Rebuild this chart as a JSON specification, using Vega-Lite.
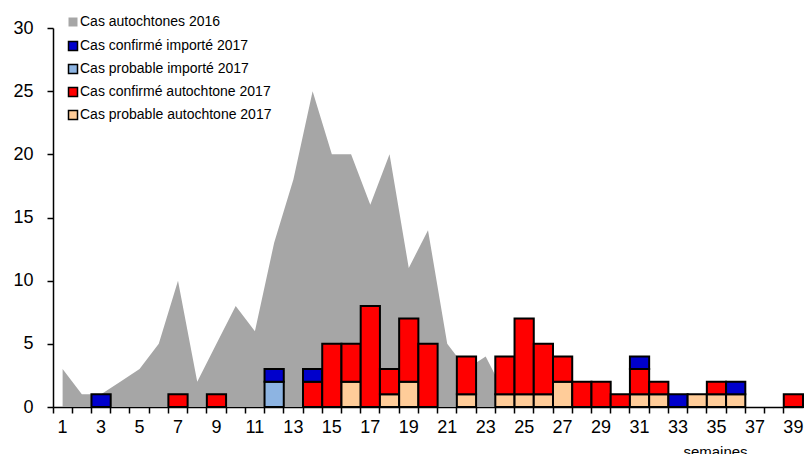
{
  "$schema": "https://vega.github.io/schema/vega-lite/v6.json",
  "width": 750,
  "height": 379,
  "autosize": "none",
  "padding": {"left": 53, "top": 28, "right": 3, "bottom": 47},
  "background": "white",
  "config": {
    "view": {"stroke": null},
    "font": "Liberation Sans",
    "axis": {"labelColor": "black", "titleColor": "black", "labelFont": "Liberation Sans", "titleFont": "Liberation Sans"},
    "legend": {"labelFont": "Liberation Sans", "labelColor": "black"}
  },
  "data": {
    "values": [
      {"semaine": 1, "serie": "Cas autochtones 2016", "cas": 3},
      {"semaine": 2, "serie": "Cas autochtones 2016", "cas": 1},
      {"semaine": 3, "serie": "Cas autochtones 2016", "cas": 1},
      {"semaine": 4, "serie": "Cas autochtones 2016", "cas": 2},
      {"semaine": 5, "serie": "Cas autochtones 2016", "cas": 3},
      {"semaine": 6, "serie": "Cas autochtones 2016", "cas": 5},
      {"semaine": 7, "serie": "Cas autochtones 2016", "cas": 10},
      {"semaine": 8, "serie": "Cas autochtones 2016", "cas": 2},
      {"semaine": 9, "serie": "Cas autochtones 2016", "cas": 5},
      {"semaine": 10, "serie": "Cas autochtones 2016", "cas": 8},
      {"semaine": 11, "serie": "Cas autochtones 2016", "cas": 6},
      {"semaine": 12, "serie": "Cas autochtones 2016", "cas": 13},
      {"semaine": 13, "serie": "Cas autochtones 2016", "cas": 18},
      {"semaine": 14, "serie": "Cas autochtones 2016", "cas": 25},
      {"semaine": 15, "serie": "Cas autochtones 2016", "cas": 20},
      {"semaine": 16, "serie": "Cas autochtones 2016", "cas": 20},
      {"semaine": 17, "serie": "Cas autochtones 2016", "cas": 16},
      {"semaine": 18, "serie": "Cas autochtones 2016", "cas": 20},
      {"semaine": 19, "serie": "Cas autochtones 2016", "cas": 11},
      {"semaine": 20, "serie": "Cas autochtones 2016", "cas": 14},
      {"semaine": 21, "serie": "Cas autochtones 2016", "cas": 5},
      {"semaine": 22, "serie": "Cas autochtones 2016", "cas": 3},
      {"semaine": 23, "serie": "Cas autochtones 2016", "cas": 4},
      {"semaine": 24, "serie": "Cas autochtones 2016", "cas": 1},
      {"semaine": 25, "serie": "Cas autochtones 2016", "cas": 0},
      {"semaine": 26, "serie": "Cas autochtones 2016", "cas": 0},
      {"semaine": 27, "serie": "Cas autochtones 2016", "cas": 0},
      {"semaine": 28, "serie": "Cas autochtones 2016", "cas": 0},
      {"semaine": 29, "serie": "Cas autochtones 2016", "cas": 0},
      {"semaine": 30, "serie": "Cas autochtones 2016", "cas": 0},
      {"semaine": 31, "serie": "Cas autochtones 2016", "cas": 0},
      {"semaine": 32, "serie": "Cas autochtones 2016", "cas": 0},
      {"semaine": 33, "serie": "Cas autochtones 2016", "cas": 0},
      {"semaine": 34, "serie": "Cas autochtones 2016", "cas": 0},
      {"semaine": 35, "serie": "Cas autochtones 2016", "cas": 0},
      {"semaine": 36, "serie": "Cas autochtones 2016", "cas": 0},
      {"semaine": 37, "serie": "Cas autochtones 2016", "cas": 0},
      {"semaine": 38, "serie": "Cas autochtones 2016", "cas": 0},
      {"semaine": 39, "serie": "Cas autochtones 2016", "cas": 0},

      {"semaine": 3, "serie": "Cas confirmé importé 2017", "origine": "importé", "statut": "confirmé", "cas": 1},
      {"semaine": 7, "serie": "Cas confirmé autochtone 2017", "origine": "autochtone", "statut": "confirmé", "cas": 1},
      {"semaine": 9, "serie": "Cas confirmé autochtone 2017", "origine": "autochtone", "statut": "confirmé", "cas": 1},
      {"semaine": 12, "serie": "Cas probable importé 2017", "origine": "importé", "statut": "probable", "cas": 2},
      {"semaine": 12, "serie": "Cas confirmé importé 2017", "origine": "importé", "statut": "confirmé", "cas": 1},
      {"semaine": 14, "serie": "Cas confirmé autochtone 2017", "origine": "autochtone", "statut": "confirmé", "cas": 2},
      {"semaine": 14, "serie": "Cas confirmé importé 2017", "origine": "importé", "statut": "confirmé", "cas": 1},
      {"semaine": 15, "serie": "Cas confirmé autochtone 2017", "origine": "autochtone", "statut": "confirmé", "cas": 5},
      {"semaine": 16, "serie": "Cas probable autochtone 2017", "origine": "autochtone", "statut": "probable", "cas": 2},
      {"semaine": 16, "serie": "Cas confirmé autochtone 2017", "origine": "autochtone", "statut": "confirmé", "cas": 3},
      {"semaine": 17, "serie": "Cas confirmé autochtone 2017", "origine": "autochtone", "statut": "confirmé", "cas": 8},
      {"semaine": 18, "serie": "Cas probable autochtone 2017", "origine": "autochtone", "statut": "probable", "cas": 1},
      {"semaine": 18, "serie": "Cas confirmé autochtone 2017", "origine": "autochtone", "statut": "confirmé", "cas": 2},
      {"semaine": 19, "serie": "Cas probable autochtone 2017", "origine": "autochtone", "statut": "probable", "cas": 2},
      {"semaine": 19, "serie": "Cas confirmé autochtone 2017", "origine": "autochtone", "statut": "confirmé", "cas": 5},
      {"semaine": 20, "serie": "Cas confirmé autochtone 2017", "origine": "autochtone", "statut": "confirmé", "cas": 5},
      {"semaine": 22, "serie": "Cas probable autochtone 2017", "origine": "autochtone", "statut": "probable", "cas": 1},
      {"semaine": 22, "serie": "Cas confirmé autochtone 2017", "origine": "autochtone", "statut": "confirmé", "cas": 3},
      {"semaine": 24, "serie": "Cas probable autochtone 2017", "origine": "autochtone", "statut": "probable", "cas": 1},
      {"semaine": 24, "serie": "Cas confirmé autochtone 2017", "origine": "autochtone", "statut": "confirmé", "cas": 3},
      {"semaine": 25, "serie": "Cas probable autochtone 2017", "origine": "autochtone", "statut": "probable", "cas": 1},
      {"semaine": 25, "serie": "Cas confirmé autochtone 2017", "origine": "autochtone", "statut": "confirmé", "cas": 6},
      {"semaine": 26, "serie": "Cas probable autochtone 2017", "origine": "autochtone", "statut": "probable", "cas": 1},
      {"semaine": 26, "serie": "Cas confirmé autochtone 2017", "origine": "autochtone", "statut": "confirmé", "cas": 4},
      {"semaine": 27, "serie": "Cas probable autochtone 2017", "origine": "autochtone", "statut": "probable", "cas": 2},
      {"semaine": 27, "serie": "Cas confirmé autochtone 2017", "origine": "autochtone", "statut": "confirmé", "cas": 2},
      {"semaine": 28, "serie": "Cas confirmé autochtone 2017", "origine": "autochtone", "statut": "confirmé", "cas": 2},
      {"semaine": 29, "serie": "Cas confirmé autochtone 2017", "origine": "autochtone", "statut": "confirmé", "cas": 2},
      {"semaine": 30, "serie": "Cas confirmé autochtone 2017", "origine": "autochtone", "statut": "confirmé", "cas": 1},
      {"semaine": 31, "serie": "Cas probable autochtone 2017", "origine": "autochtone", "statut": "probable", "cas": 1},
      {"semaine": 31, "serie": "Cas confirmé autochtone 2017", "origine": "autochtone", "statut": "confirmé", "cas": 2},
      {"semaine": 31, "serie": "Cas confirmé importé 2017", "origine": "importé", "statut": "confirmé", "cas": 1},
      {"semaine": 32, "serie": "Cas probable autochtone 2017", "origine": "autochtone", "statut": "probable", "cas": 1},
      {"semaine": 32, "serie": "Cas confirmé autochtone 2017", "origine": "autochtone", "statut": "confirmé", "cas": 1},
      {"semaine": 33, "serie": "Cas confirmé importé 2017", "origine": "importé", "statut": "confirmé", "cas": 1},
      {"semaine": 34, "serie": "Cas probable autochtone 2017", "origine": "autochtone", "statut": "probable", "cas": 1},
      {"semaine": 35, "serie": "Cas probable autochtone 2017", "origine": "autochtone", "statut": "probable", "cas": 1},
      {"semaine": 35, "serie": "Cas confirmé autochtone 2017", "origine": "autochtone", "statut": "confirmé", "cas": 1},
      {"semaine": 36, "serie": "Cas probable autochtone 2017", "origine": "autochtone", "statut": "probable", "cas": 1},
      {"semaine": 36, "serie": "Cas confirmé importé 2017", "origine": "importé", "statut": "confirmé", "cas": 1},
      {"semaine": 39, "serie": "Cas confirmé autochtone 2017", "origine": "autochtone", "statut": "confirmé", "cas": 1}
    ]
  },
  "encoding": {
    "x": {
      "field": "semaine",
      "type": "ordinal",
      "scale": {"paddingInner": 0, "paddingOuter": 0},
      "axis": {
        "bandPosition": 0,
        "labelExpr": "datum.value % 2 == 1 ? datum.label : ''",
        "labelAngle": 0,
        "labelFontSize": 18,
        "labelPadding": 5,
        "labelOverlap": false,
        "tickColor": "black",
        "tickSize": 6,
        "tickWidth": 1.5,
        "domainColor": "black",
        "domainWidth": 1.5,
        "title": "semaines",
        "titleFontSize": 15,
        "titleFontWeight": "normal",
        "titleX": 662,
        "titleY": 49,
        "titleBaseline": "alphabetic",
        "titleAlign": "center"
      }
    },
    "y": {
      "field": "cas",
      "type": "quantitative",
      "scale": {"domain": [0, 30]},
      "axis": {
        "values": [0, 5, 10, 15, 20, 25, 30],
        "title": null,
        "grid": false,
        "labelFontSize": 18,
        "labelPadding": 14,
        "tickColor": "black",
        "tickSize": 6,
        "tickWidth": 1.5,
        "domainColor": "black",
        "domainWidth": 1.5
      }
    }
  },
  "layer": [
    {
      "transform": [{"filter": "datum.serie == 'Cas autochtones 2016'"}],
      "mark": {"type": "area", "interpolate": "linear"},
      "encoding": {
        "color": {
          "field": "serie",
          "type": "nominal",
          "scale": {"domain": ["Cas autochtones 2016"], "range": ["#A6A6A6"]},
          "legend": {
            "title": null,
            "orient": "none",
            "legendX": 13,
            "legendY": -13,
            "padding": 0,
            "symbolType": "square",
            "symbolSize": 81,
            "symbolStrokeWidth": 0,
            "labelFontSize": 14,
            "labelOffset": 0,
            "labelLimit": 400
          }
        }
      }
    },
    {
      "transform": [
        {"filter": "datum.serie != 'Cas autochtones 2016'"},
        {
          "window": [{"op": "row_number", "as": "rang"}],
          "groupby": ["semaine"],
          "sort": [{"field": "origine", "order": "ascending"}, {"field": "statut", "order": "descending"}]
        }
      ],
      "mark": {"type": "bar", "stroke": "black", "strokeWidth": 2},
      "encoding": {
        "fill": {
          "field": "serie",
          "type": "nominal",
          "scale": {
            "domain": ["Cas confirmé importé 2017", "Cas probable importé 2017", "Cas confirmé autochtone 2017", "Cas probable autochtone 2017"],
            "range": ["#0000CC", "#8DB4E2", "#FF0000", "#FFCC99"]
          },
          "legend": {
            "title": null,
            "orient": "none",
            "legendX": 13,
            "legendY": 11,
            "padding": 0,
            "symbolType": "square",
            "symbolSize": 81,
            "symbolStrokeColor": "black",
            "symbolStrokeWidth": 1.5,
            "labelFontSize": 14,
            "labelOffset": 0,
            "labelLimit": 400,
            "rowPadding": 7
          }
        },
        "order": {"field": "rang", "type": "quantitative", "sort": "ascending"}
      }
    }
  ]
}
